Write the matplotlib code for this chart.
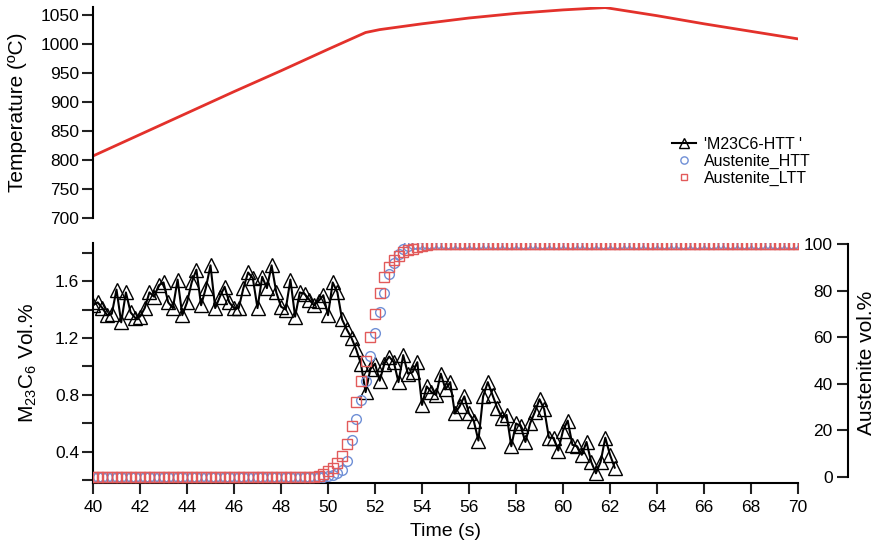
import matplotlib
matplotlib.use("Agg")
import matplotlib.pyplot as plt
import numpy as np

plt.rcParams["font.family"] = ["Liberation Sans Narrow", "Liberation Sans", "DejaVu Sans"]
plt.rcParams["mathtext.default"] = "regular"

# temperature profile (top panel)
temp_time = [40, 42, 44, 46, 48, 50, 51.6, 52.2, 54, 56, 58, 60, 61.8, 64, 66, 68, 70]
temp_vals = [807, 844, 881, 918, 954, 991, 1020, 1025, 1035, 1045, 1053, 1059, 1063,
             1049, 1035, 1022, 1009]

# M23C6 fraction, sampled every 0.2 s from 40.0 to 62.2 s
m23_time = np.round(np.arange(40.0, 62.21, 0.2), 1)
m23_vals = [
    1.43, 1.45, 1.41, 1.36, 1.37, 1.54, 1.31, 1.52, 1.38, 1.34,   # 40.0-41.8
    1.35, 1.41, 1.52, 1.49, 1.57, 1.59, 1.45, 1.41, 1.61, 1.36,   # 42.0-43.8
    1.45, 1.59, 1.68, 1.43, 1.55, 1.71, 1.41, 1.49, 1.56, 1.45,   # 44.0-45.8
    1.41, 1.41, 1.55, 1.66, 1.62, 1.41, 1.63, 1.55, 1.71, 1.52,   # 46.0-47.8
    1.42, 1.40, 1.61, 1.35, 1.52, 1.51, 1.47, 1.43, 1.46, 1.50,   # 48.0-49.8
    1.36, 1.59, 1.52, 1.33, 1.26, 1.20, 1.12, 1.02, 0.82, 0.98,   # 50.0-51.8
    1.02, 0.90, 1.02, 1.07, 1.03, 0.89, 1.08, 0.95, 0.96, 1.03,   # 52.0-53.8
    0.73, 0.86, 0.82, 0.80, 0.95, 0.84, 0.89, 0.67, 0.72, 0.79,   # 54.0-55.8
    0.67, 0.62, 0.48, 0.79, 0.89, 0.80, 0.71, 0.64, 0.66, 0.44,   # 56.0-57.8
    0.60, 0.58, 0.47, 0.60, 0.68, 0.77, 0.70, 0.50, 0.50, 0.41,   # 58.0-59.8
    0.55, 0.62, 0.45, 0.44, 0.38, 0.47, 0.33, 0.25, 0.33, 0.50,   # 60.0-61.8
    0.38, 0.29,                                                   # 62.0-62.2
]

# austenite fraction, sampled every 0.2 s from 40.0 to 70.0 s
aus_time = np.round(np.arange(40.0, 70.01, 0.2), 1)
aus_htt = ([0.0] * 50
           + [0.5, 1.0, 1.7, 3.2, 7, 16, 25, 33, 41, 52, 62, 71, 79, 87, 92,
              95.5, 98, 99.3, 99.8]
           + [100.0] * 82)
aus_ltt = ([0.0] * 48
           + [0.5, 1.5, 2.5, 4, 6, 9, 14, 22, 32, 41, 50, 60, 70, 79, 86, 90,
              93, 95, 96.5, 97.5, 98, 98.5, 99, 99.5]
           + [100.0] * 79)

W, H = 880, 556
fig = plt.figure(figsize=(W / 100, H / 100), dpi=100)
ax_t = fig.add_axes([93 / W, 1 - 218 / H, 705 / W, 211 / H])
ax_b = fig.add_axes([93 / W, 1 - 483 / H, 705 / W, 240 / H])
ax_r = ax_b.twinx()

tick_kw = dict(direction="out", length=8, width=1.5, labelsize=12.5, color="#222222")

# top panel
ax_t.plot(temp_time, temp_vals, color="#e3312b", lw=2)
ax_t.set_xlim(40, 70)
ax_t.set_ylim(700, 1064)
ax_t.set_yticks(range(700, 1051, 50))
ax_t.set_xticks([])
for side in ["top", "right", "bottom"]:
    ax_t.spines[side].set_visible(False)
ax_t.spines["left"].set_linewidth(1.5)
ax_t.tick_params(axis="y", pad=2, **tick_kw)
ax_t.set_ylabel("Temperature (\u00baC)", fontsize=15, family=["Liberation Sans", "DejaVu Sans"])
ax_t.yaxis.set_label_coords(-0.094, 0.5)

# bottom panel, left axis
l_m23, = ax_b.plot(m23_time, m23_vals, color="black", lw=1.5, marker="^", ms=10,
                   mfc="none", mec="black", mew=1.0)
ax_b.set_xlim(40, 70)
ax_b.set_ylim(0.182, 1.867)
ax_b.set_yticks([0.4, 0.8, 1.2, 1.6])
ax_b.set_yticks(np.arange(0.2, 1.81, 0.2), minor=True)
ax_b.set_xticks(range(40, 71, 2))
for side in ["top", "right"]:
    ax_b.spines[side].set_visible(False)
for side in ["left", "bottom"]:
    ax_b.spines[side].set_linewidth(1.5)
ax_b.tick_params(axis="y", which="both", pad=2, **tick_kw)
ax_b.tick_params(axis="x", pad=4, **tick_kw)
ax_b.set_ylabel("M$_{23}$C$_6$ Vol.%", fontsize=15, family=["Liberation Sans", "DejaVu Sans"])
ax_b.yaxis.set_label_coords(-0.076, 0.5)
ax_b.set_xlabel("Time (s)", fontsize=14, labelpad=6)

# bottom panel, right axis (austenite)
l_htt, = ax_r.plot(aus_time, aus_htt, ls="none", marker="o", ms=7, mfc="none",
                   mec="#6f8fd6", mew=1.0)
l_ltt, = ax_r.plot(aus_time, aus_ltt, ls="none", marker="s", ms=6.5, mfc="none",
                   mec="#e25a5a", mew=1.0)
ax_r.set_ylim(-2.57, 100.43)
ax_r.set_yticks(range(0, 101, 20))
for s in ax_r.spines.values():
    s.set_visible(False)
ax_r.spines["left"].set_visible(True)
ax_r.spines["left"].set_position(("axes", (848 - 93) / 705))
ax_r.spines["left"].set_bounds(0, 100)
ax_r.spines["left"].set_linewidth(1.5)
ax_r.yaxis.set_ticks_position("left")
ax_r.tick_params(axis="y", pad=3, **tick_kw)
ax_r.set_ylabel("Austenite vol.%", fontsize=15, family=["Liberation Sans", "DejaVu Sans"])
ax_r.yaxis.set_label_position("right")
ax_r.yaxis.set_label_coords((857 - 93) / 705, 0.5)

fig.legend([l_m23, l_htt, l_ltt], ["'M23C6-HTT '", "Austenite_HTT", "Austenite_LTT"],
           loc="upper left", bbox_to_anchor=(672 / W, 1 - 137 / H), frameon=False,
           fontsize=11.5, handlelength=1.5, handletextpad=0.5, labelspacing=0.12,
           borderpad=0, borderaxespad=0, markerscale=0.75)

fig.savefig("out.png", dpi=100)
